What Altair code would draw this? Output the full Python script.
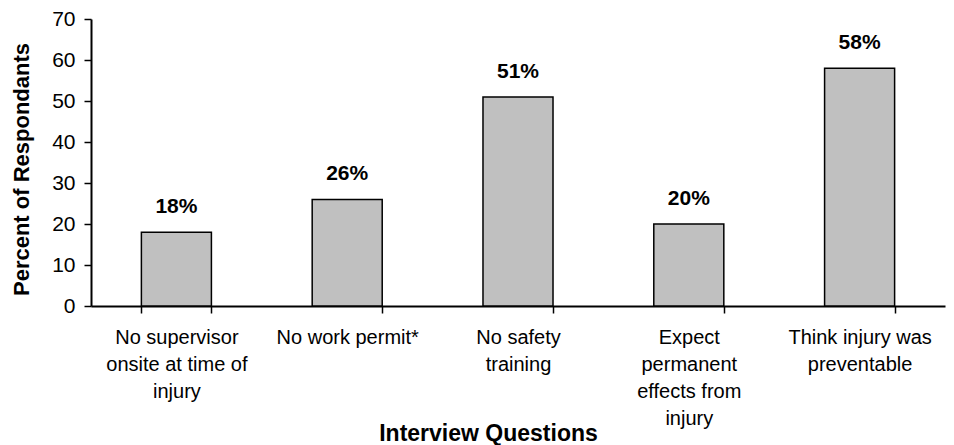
import altair as alt
import pandas as pd

# Survey responses: share of respondents answering yes to each question
questions = [
    "No supervisor onsite at time of injury",
    "No work permit*",
    "No safety training",
    "Expect permanent effects from injury",
    "Think injury was preventable",
]
label_lines = [
    ["No supervisor", "onsite at time of", "injury"],
    ["No work permit*"],
    ["No safety", "training"],
    ["Expect", "permanent", "effects from", "injury"],
    ["Think injury was", "preventable"],
]
percents = [18, 26, 51, 20, 58]

df = pd.DataFrame({"question": questions, "percent": percents})
df["label"] = df["percent"].astype(str) + "%"

# Multi-line axis labels looked up by category name
label_map = {q: lines for q, lines in zip(questions, label_lines)}
label_expr = "{" + ", ".join(
    "'" + q.replace("'", "\\'") + "': [" + ", ".join("'" + l + "'" for l in lines) + "]"
    for q, lines in label_map.items()
) + "}[datum.label]"

FONT = "Liberation Sans"

x_enc = alt.X(
    "question:N",
    sort=questions,
    scale=alt.Scale(paddingInner=0.59, paddingOuter=0.295),
    axis=alt.Axis(
        title="Interview Questions",
        titleFont=FONT,
        titleFontSize=23,
        titleFontWeight="bold",
        titleColor="black",
        titleX=397,
        titleY=134,
        titleAlign="center",
        titleBaseline="alphabetic",
        labelExpr=label_expr,
        labelFont=FONT,
        labelFontSize=20,
        labelColor="black",
        labelAngle=0,
        labelLineHeight=27,
        labelPadding=14,
        labelBaseline="top",
        tickBand="extent",
        tickSize=7,
        tickColor="black",
        tickWidth=1.5,
        domainColor="black",
        domainWidth=2,
    ),
)

y_enc = alt.Y(
    "percent:Q",
    scale=alt.Scale(domain=[0, 70], nice=False),
    axis=alt.Axis(
        title="Percent of Respondants",
        titleFont=FONT,
        titleFontSize=22,
        titleFontWeight="bold",
        titleColor="black",
        titleX=-63,
        titleY=150,
        titleAngle=270,
        titleAlign="center",
        titleBaseline="alphabetic",
        values=[0, 10, 20, 30, 40, 50, 60, 70],
        labelFont=FONT,
        labelFontSize=21,
        labelColor="black",
        labelPadding=9,
        tickSize=7,
        tickColor="black",
        tickWidth=1.5,
        domainColor="black",
        domainWidth=2,
        grid=False,
    ),
)

bars = alt.Chart(df).mark_bar(
    color="#C0C0C0", stroke="black", strokeWidth=1.5
).encode(x=x_enc, y=y_enc)

texts = alt.Chart(df).mark_text(
    font=FONT, fontSize=21, fontWeight="bold", color="black",
    baseline="alphabetic", dy=-19,
).encode(
    x=alt.X("question:N", sort=questions),
    y=alt.Y("percent:Q"),
    text="label:N",
)

chart = (
    alt.layer(bars, texts)
    .properties(
        width=854,
        height=287,
        autosize=alt.AutoSizeParams(type="none"),
        padding={"left": 91, "top": 19, "right": 9, "bottom": 139},
        background="white",
    )
    .configure_view(stroke=None)
)

chart.save("out.html", embed_options={"renderer": "svg", "actions": False})
